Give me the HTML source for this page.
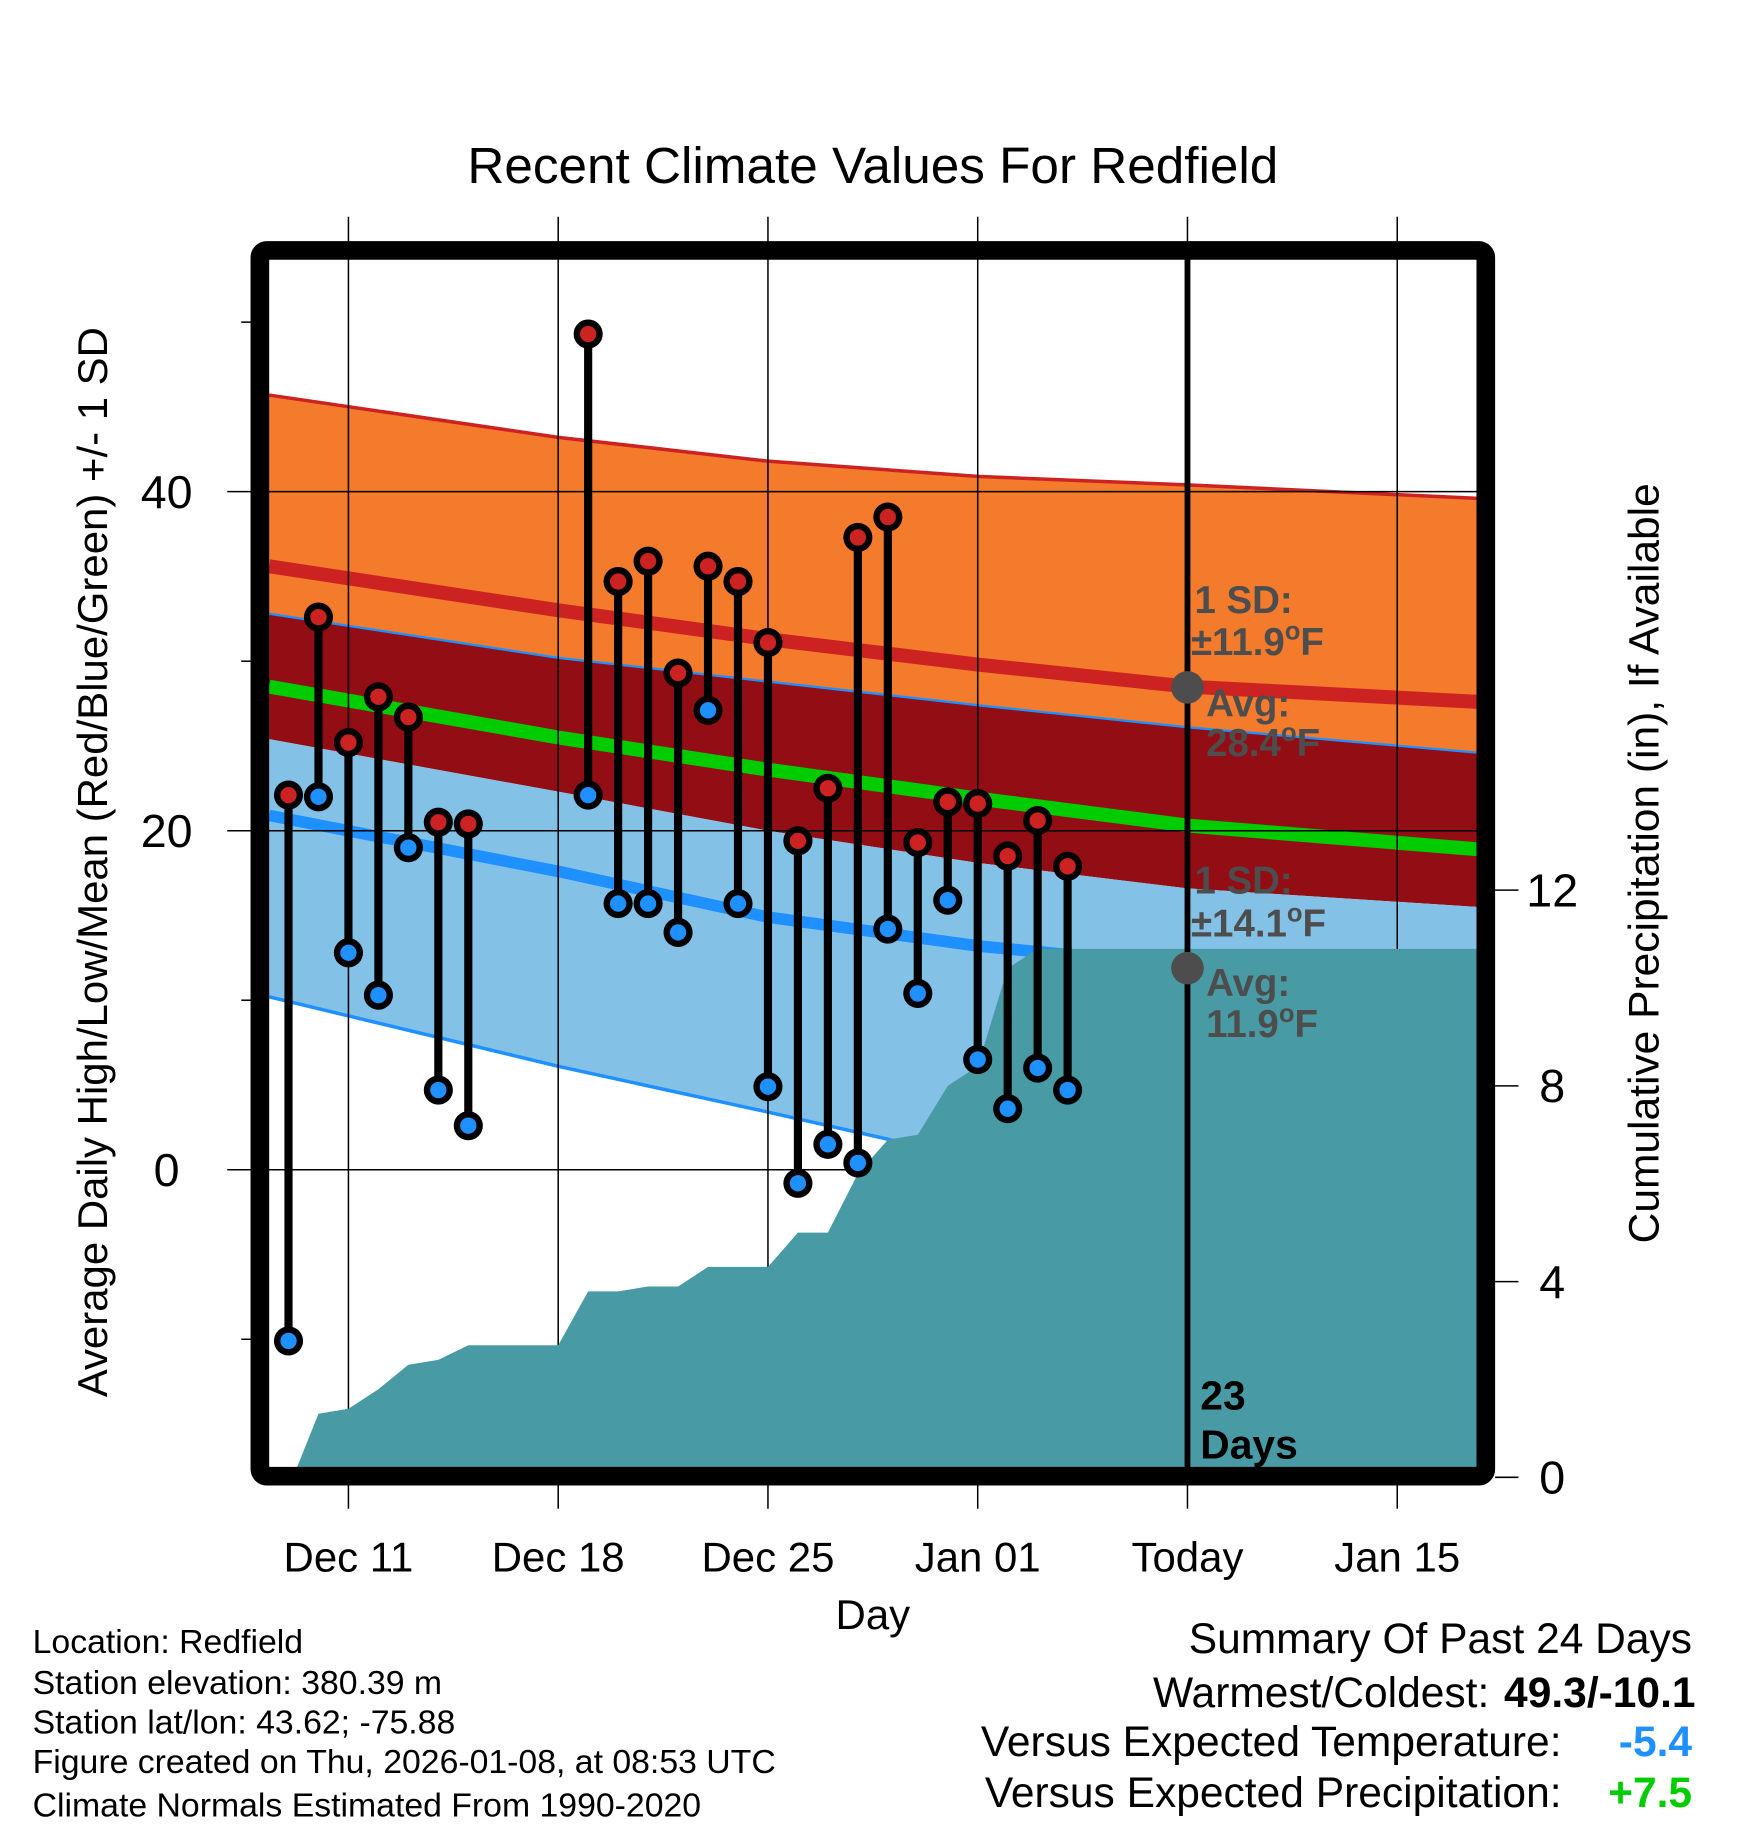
<!DOCTYPE html>
<html><head><meta charset="utf-8"><style>
html,body{margin:0;padding:0;background:#fff}
svg{display:block}
text{font-family:"Liberation Sans",Arial,sans-serif}
</style></head><body>
<svg id="chart" width="1748" height="1828" viewBox="0 0 1500 1569" preserveAspectRatio="none" xmlns="http://www.w3.org/2000/svg">
<g id="bands"></g>
<g id="grid"></g>
<g id="precip"></g>
<g id="stems"></g>
<g id="ann">
<line x1="1019" y1="222" x2="1019" y2="1262" stroke="#000" stroke-width="5"/>
<circle cx="1019" cy="590" r="14" fill="#4d4d4d"/>
<circle cx="1019" cy="831" r="14" fill="#4d4d4d"/>
<g font-weight="bold" font-size="33" fill="#4d4d4d">
<text x="1025" y="526">1 SD:</text>
<text x="1022" y="562">±11.9<tspan font-size="22" dy="-13">o</tspan><tspan dy="13">F</tspan></text>
<text x="1035" y="615">Avg:</text>
<text x="1035" y="649">28.4<tspan font-size="22" dy="-13">o</tspan><tspan dy="13">F</tspan></text>
<text x="1025" y="767">1 SD:</text>
<text x="1022" y="804">±14.1<tspan font-size="22" dy="-13">o</tspan><tspan dy="13">F</tspan></text>
<text x="1035" y="855">Avg:</text>
<text x="1035" y="890">11.9<tspan font-size="22" dy="-13">o</tspan><tspan dy="13">F</tspan></text>
</g>
<text x="1030" y="1210" font-size="35" font-weight="bold">23</text>
<text x="1030" y="1252" font-size="35" font-weight="bold">Days</text>
</g>
<rect x="223" y="215" width="1052" height="1052" rx="6" fill="none" stroke="#000" stroke-width="16"/>
<g id="axes"></g>
<text x="749" y="157" font-size="44" text-anchor="middle">Recent Climate Values For Redfield</text>
<text transform="translate(92,740) rotate(-90)" font-size="36" text-anchor="middle">Average Daily High/Low/Mean (Red/Blue/Green) +/- 1 SD</text>
<text transform="translate(1423,741) rotate(-90)" font-size="36.5" text-anchor="middle">Cumulative Precipitation (in), If Available</text>
<text x="749" y="1398" font-size="36" text-anchor="middle">Day</text>
<g font-size="29">
<text x="28" y="1419">Location: Redfield</text>
<text x="28" y="1454">Station elevation: 380.39 m</text>
<text x="28" y="1488">Station lat/lon: 43.62; -75.88</text>
<text x="28" y="1522">Figure created on Thu, 2026-01-08, at 08:53 UTC</text>
<text x="28" y="1559">Climate Normals Estimated From 1990-2020</text>
</g>
<g font-size="36.5">
<text x="1452" y="1419" text-anchor="end">Summary Of Past 24 Days</text>
<text x="1278" y="1465" text-anchor="end">Warmest/Coldest:</text>
<text x="1455" y="1465" text-anchor="end" font-weight="bold">49.3/-10.1</text>
<text x="1340" y="1507" text-anchor="end">Versus Expected Temperature:</text>
<text x="1452" y="1507" text-anchor="end" font-weight="bold" fill="#1e90ff">-5.4</text>
<text x="1340" y="1551" text-anchor="end">Versus Expected Precipitation:</text>
<text x="1452" y="1551" text-anchor="end" font-weight="bold" fill="#00cc00">+7.5</text>
</g>
</svg>
<script>
// day index 0 = Dec 11
const obsDays=[-2,-1,0,1,2,3,4,8,9,10,11,12,13,14,15,16,17,18,19,20,21,22,23,24];
const highs=[22.1,32.6,25.2,27.9,26.7,20.5,20.4,49.3,34.7,35.9,29.3,35.6,34.7,31.1,19.4,22.5,37.3,38.5,19.3,21.7,21.6,18.5,20.6,17.9];
const lows=[-10.1,22.0,12.8,10.3,19.0,4.7,2.6,22.1,15.7,15.7,14.0,27.1,15.7,4.9,-0.8,1.5,0.4,14.2,10.4,15.9,6.5,3.6,6.0,4.7];
const precipDays=[-1.85,-1,0,1,2,3,4,5,6,7,8,9,10,11,12,13,14,15,16,17,18,19,20,21,22,23,24,37.7];
const precipVals=[0,1.3,1.4,1.8,2.3,2.4,2.7,2.7,2.7,2.7,3.8,3.8,3.9,3.9,4.3,4.3,4.3,5.0,5.0,6.2,6.9,7.0,8.0,8.4,10.4,10.8,10.8,10.8];
const normDays=[-2.65,7,14,21,28,37.7];
const highPlusSD=[45.7,43.2,41.8,40.9,40.4,39.6];
const highMean=[35.6,33.0,31.3,29.8,28.5,27.6];
const lowPlusSD=[32.8,30.2,28.8,27.4,26.1,24.6];
const meanTemp=[28.5,25.5,23.6,21.9,20.3,18.9];
const highMinusSD=[25.4,22.3,20.0,18.1,16.6,15.5];
const lowMean=[20.9,17.6,14.9,13.2,12.0,11.3];
const lowMinusSD=[10.2,6.1,3.4,0.6,-1.8,-3.8];
const xTickDays=[0,7,14,21,28,35];
const xTickLabels=["Dec 11","Dec 18","Dec 25","Jan 01","Today","Jan 15"];
const yMajor=[40,20,0];
const yMinor=[50,30,10,-10];
const pTicks=[12,8,4,0];

const X=d=>299+d*180/7;
const Y=t=>1004-t*14.55;
const P=p=>1268-42*p;
const NS="http://www.w3.org/2000/svg";
function mk(tag,parent,attrs){const e=document.createElementNS(NS,tag);for(const k in attrs)e.setAttribute(k,attrs[k]);parent.appendChild(e);return e;}
const pts=(arr)=>normDays.map((d,i)=>X(d).toFixed(1)+","+Y(arr[i]).toFixed(1));
function band(top,bot,fill,name){
  const p=mk('polygon',document.getElementById('bands'),{points:pts(top).concat(pts(bot).reverse()).join(' '),fill:fill});
  
  
}
function line(arr,col,w,name){
  const p=mk('polyline',document.getElementById('bands'),{points:pts(arr).join(' '),fill:'none',stroke:col,'stroke-width':w});
  
  
}
band(highPlusSD,lowPlusSD,'#f47a2c','high-sd-band');
band(lowPlusSD,highMinusSD,'#920d14','overlap-band');
band(highMinusSD,lowMinusSD,'#83c1e7','low-sd-band');
line(highPlusSD,'#cc2222',3,'high-plus-sd-line');
line(lowPlusSD,'#1e90ff',2,'low-plus-sd-line');
line(lowMinusSD,'#1e90ff',3,'low-minus-sd-line');
line(highMean,'#cc2222',12,'high-mean-line');
line(meanTemp,'#00cc00',12,'mean-line');
line(lowMean,'#1e90ff',10,'low-mean-line');

const grid=document.getElementById('grid');
xTickDays.forEach(d=>{const l=mk('line',grid,{x1:X(d),x2:X(d),y1:186,y2:1295,stroke:'#000','stroke-width':1.3});
  
  });
yMajor.forEach(t=>{const l=mk('line',grid,{x1:195,x2:1268,y1:Y(t),y2:Y(t),stroke:'#000','stroke-width':1.3});
  
  });

const pr=document.getElementById('precip');
let pp=precipDays.map((d,i)=>Math.max(231,X(d)).toFixed(1)+","+P(precipVals[i]).toFixed(1));
pp.push("1268,1262");pp.push(X(precipDays[0]).toFixed(1)+",1262");
const pa=mk('polygon',pr,{points:pp.join(' '),fill:'#489ba4'});



const st=document.getElementById('stems');
obsDays.forEach((d,i)=>{
  const x=X(d);
  const s=mk('line',st,{x1:x,x2:x,y1:Y(highs[i]),y2:Y(lows[i]),stroke:'#000','stroke-width':7});
  
  
  [[lows[i],'#1e90ff','low-point'],[highs[i],'#cc2222','high-point']].forEach(([v,c,n])=>{
    const o=mk('circle',st,{cx:x,cy:Y(v),r:12.5,fill:'#000'});
    
    
    const c2=mk('circle',st,{cx:x,cy:Y(v),r:7,fill:c});
    
    
  });
});

const ax=document.getElementById('axes');
xTickDays.forEach((d,i)=>{
  const t=mk('text',ax,{x:X(d),y:1349,'font-size':36,'text-anchor':'middle'});t.textContent=xTickLabels[i];
  
  
});
yMajor.forEach(v=>{
  const t=mk('text',ax,{x:143,y:Y(v)+14,'font-size':40,'text-anchor':'middle'});t.textContent=v;
  
  
});
yMinor.forEach(v=>{
  const l=mk('line',ax,{x1:207,x2:216,y1:Y(v),y2:Y(v),stroke:'#000','stroke-width':1.3});
  
  
});
pTicks.forEach(v=>{
  const l=mk('line',ax,{x1:1283,x2:1303,y1:P(v),y2:P(v),stroke:'#000','stroke-width':1.3});
  
  
  const t=mk('text',ax,{x:1332,y:P(v)+14,'font-size':40,'text-anchor':'middle'});t.textContent=v;
  
  
});
</script>
</body></html>
